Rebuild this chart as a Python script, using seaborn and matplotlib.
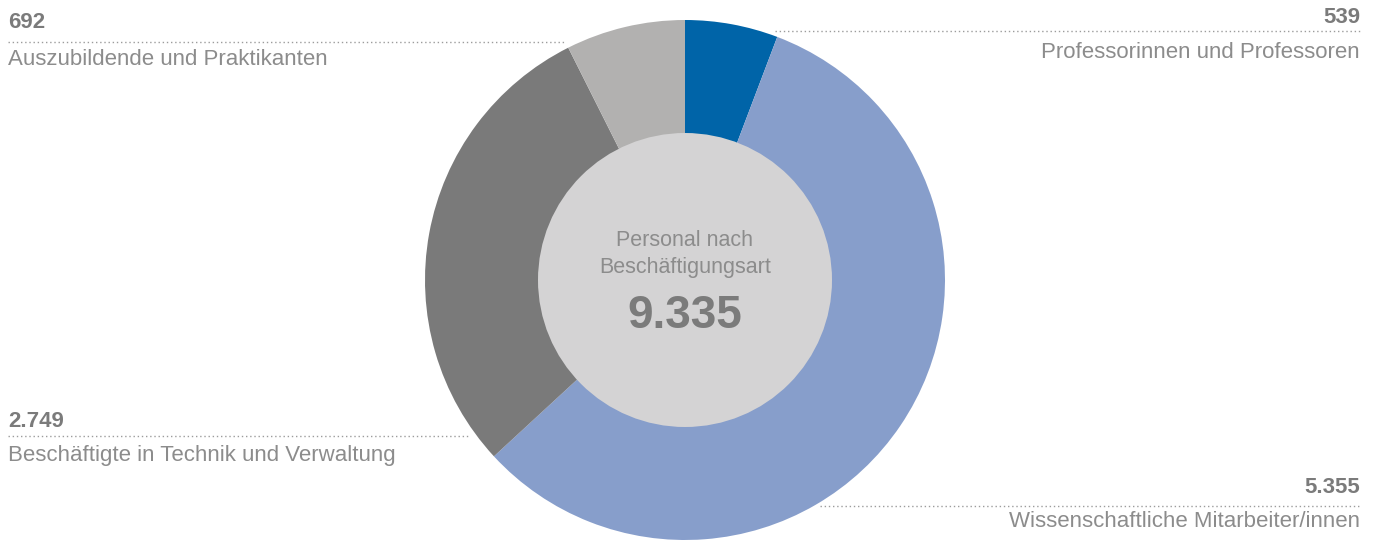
import matplotlib
matplotlib.use("Agg")
import matplotlib.pyplot as plt
import seaborn as sns

# Personal nach Beschäftigungsart
categories = ["Professorinnen und Professoren",
              "Wissenschaftliche Mitarbeiter/innen",
              "Beschäftigte in Technik und Verwaltung",
              "Auszubildende und Praktikanten"]
values = [539, 5355, 2749, 692]
value_labels = ["539", "5.355", "2.749", "692"]
colors = ["#0064a8", "#879ecb", "#7a7a7a", "#b2b1b0"]
total_label = "9.335"

sns.set_theme(style="white")
plt.rcParams['font.family'] = ['Liberation Sans', 'DejaVu Sans']

W, H = 1378, 540
fig = plt.figure(figsize=(W / 100, H / 100), dpi=100)
ax = fig.add_axes([0, 0, 1, 1])

cx, cy, r_out, r_in = 685, H - 280, 260, 147
ax.pie(values, colors=colors, startangle=90, counterclock=False,
       center=(cx, cy), radius=r_out, frame=True,
       wedgeprops=dict(linewidth=0))
ax.add_patch(plt.Circle((cx, cy), r_in, color="#d4d3d4", lw=0))

ax.set_xlim(0, W)
ax.set_ylim(0, H)
ax.set_aspect('equal')
ax.axis('off')

num_col = "#7b7b7b"
lab_col = "#8c8c8c"
dot_col = "#9c9c9c"

# (number baseline, line y, label baseline, x0, x1, align, text x), px from top
layout = [
    (23, 31, 58, 775, 1360, "right", 1360),
    (493, 506, 527, 820, 1360, "right", 1360),
    (427, 436, 461, 8, 470, "left", 8),
    (28, 42, 65, 8, 565, "left", 8),
]
for (nb, ly, lb, x0, x1, ha, tx), cat, vl in zip(layout, categories, value_labels):
    ax.plot([x0, x1], [H - ly, H - ly], ls=(0, (1, 2)), color=dot_col, lw=1)
    ax.text(tx, H - nb, vl, ha=ha, va="baseline", fontsize=16,
            fontweight="bold", color=num_col)
    ax.text(tx, H - lb, cat, ha=ha, va="baseline", fontsize=16, color=lab_col)

ax.text(cx, H - 241, "Personal nach", ha="center", va="center",
        fontsize=15.5, color=lab_col)
ax.text(cx, H - 268, "Beschäftigungsart", ha="center", va="center",
        fontsize=15.5, color=lab_col)
ax.text(cx, H - 328, total_label, ha="center", va="baseline",
        fontsize=33, fontweight="bold", color=num_col)

fig.savefig("out.png", dpi=100)
